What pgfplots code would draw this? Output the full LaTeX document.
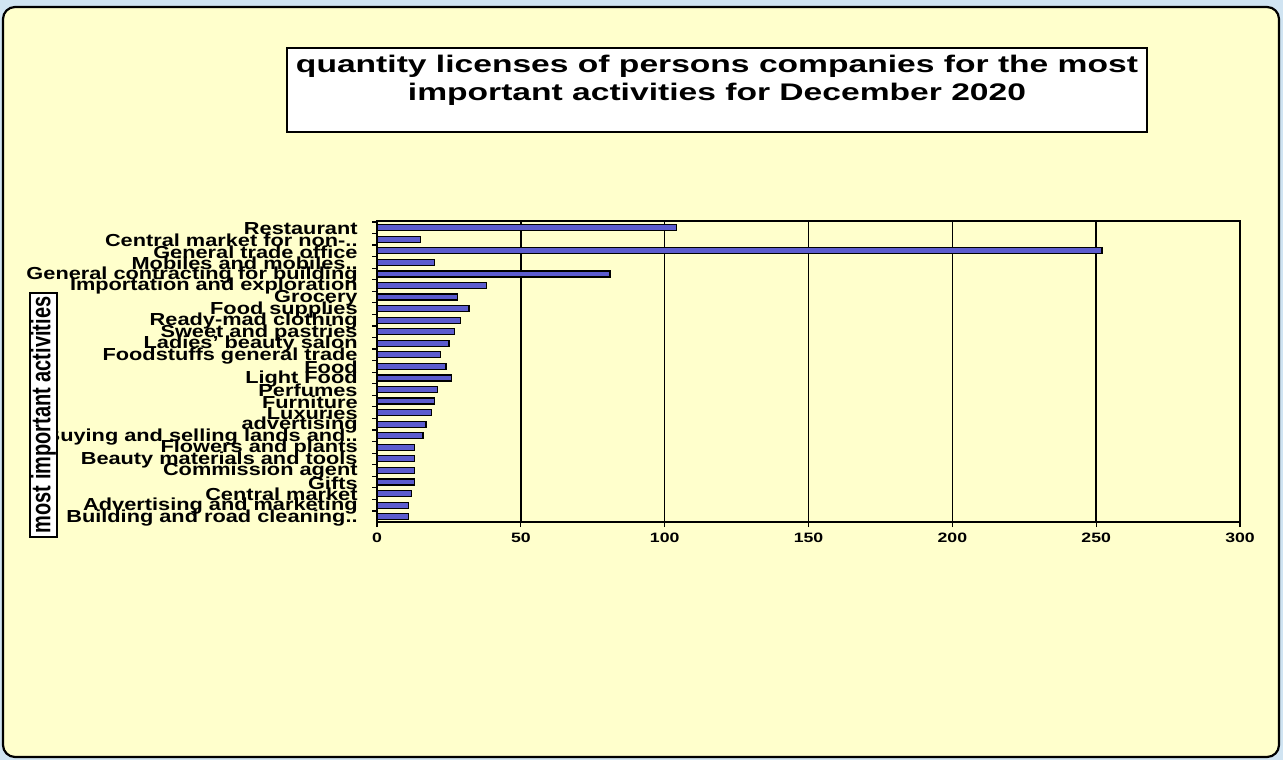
\documentclass[border=0pt]{standalone}
\usepackage{pgfplots}
\pgfplotsset{compat=1.18}
\usepackage{fontspec}
\setmainfont{Liberation Sans}
\newfontfamily\titlefont[FakeStretch=1.4]{Liberation Sans}
\newfontfamily\labfont[FakeStretch=1.25]{Liberation Sans}
\newfontfamily\numfont[FakeStretch=1.3]{Liberation Sans}
\newfontfamily\ylabfont[FakeStretch=0.74]{Liberation Sans}
\definecolor{bgblue}{RGB}{208,228,242}
\definecolor{paleyellow}{RGB}{255,255,204}
\definecolor{barblue}{RGB}{92,92,206}
\begin{document}
\begin{tikzpicture}
\useasboundingbox (0pt,0pt) rectangle (641.5pt,380pt);
\fill[bgblue] (0pt,0pt) rectangle (641.5pt,380pt);
\draw[line width=1.1pt, fill=paleyellow, rounded corners=6pt] (1.5pt,1.5pt) rectangle (639.5pt,376.5pt);
\begin{scope}
\clip[rounded corners=6pt] (2pt,2pt) rectangle (639pt,376pt);
\begin{axis}[
  at={(188.5pt,119pt)}, anchor=south west, scale only axis,
  width=431.5pt, height=150.5pt,
  xbar, bar width=3pt,
  xmin=0, xmax=300, ymin=-0.58, ymax=25.46, y dir=reverse,
  axis background/.style={fill=paleyellow},
  axis line style={line width=1.2pt, black},
  xtick={0,50,...,300},
  xmajorgrids, major grid style={black, line width=0.75pt},
  tick pos=left, tick align=outside, major tick length=2.5pt,
  tick style={black, line width=0.6pt},
  /pgf/number format/assume math mode=true,
  xticklabel style={font=\numfont\bfseries\fontsize{6.8}{8}\selectfont, inner sep=0pt, yshift=-3pt},
  ytick={-0.5,0.5,...,25.5}, yticklabels={},
  extra y ticks={0,1,...,25},
  extra y tick style={major tick length=0pt, ymajorgrids=false,
    yticklabel style={font=\labfont\bfseries\fontsize{8.7}{8.7}\selectfont, inner sep=0pt, anchor=east, xshift=-9.5pt, yshift=-0.5pt}},
  extra y tick labels={
    Restaurant,
    Central market for non-..\hspace{-8.5pt},
    General trade office,
    Mobiles and mobiles..\hspace{-7pt},
    General contracting for building,
    Importation and exploration,
    Grocery,
    Food supplies,
    Ready-mad clothing,
    Sweet and pastries,
    Ladies’ beauty salon,
    Foodstuffs general trade\hspace{5.5pt},
    Food\hspace{3pt},
    Light Food,
    Perfumes,
    Furniture,
    Luxuries,
    advertising\hspace{3pt},
    Buying and selling lands and..\hspace{-8.5pt},
    Flowers and plants,
    Beauty materials and tools,
    Commission agent,
    Gifts,
    Central market,
    Advertising and marketing\hspace{3pt},
    Building and road cleaning..\hspace{-8.5pt}},
]
\addplot[fill=barblue, draw=black, line width=0.6pt] coordinates {
  (104,0) (15,1) (252,2) (20,3) (81,4) (38,5) (28,6) (32,7) (29,8) (27,9)
  (25,10) (22,11) (24,12) (26,13) (21,14) (20,15) (19,16) (17,17) (16,18)
  (13,19) (13,20) (13,21) (13,22) (12,23) (11,24) (11,25)
};
\end{axis}
\end{scope}
\draw[line width=1.2pt, fill=white] (143.5pt,314pt) rectangle (573.5pt,356pt);
\node[anchor=north, align=center, inner sep=0pt, font=\titlefont\bfseries\fontsize{12}{14}\selectfont] at (358.5pt,352.5pt)
  {quantity licenses of persons companies for the most\\important activities for December 2020};
\node[rotate=90, draw, line width=1.2pt, fill=white, inner sep=0pt, minimum width=122pt, minimum height=13.5pt,
  font=\ylabfont\bfseries\fontsize{13.5}{13.5}\selectfont] at (21.75pt,172.5pt) {most important activities};
\end{tikzpicture}
\end{document}
